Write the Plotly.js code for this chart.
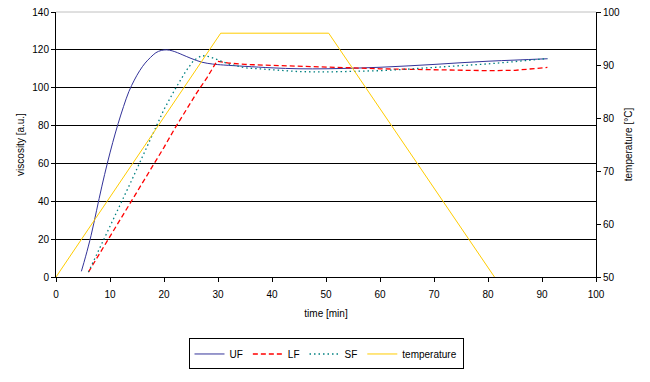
<!DOCTYPE html>
<html>
<head>
<meta charset="utf-8">
<script src="https://cdn.plot.ly/plotly-3.0.1.min.js"></script>
<style>html,body{margin:0;padding:0;background:#fff;}#chart{width:650px;height:382px;}</style>
</head>
<body>
<div id="chart"></div>
<script>
const ufTime = [4.7, 5.5, 6.5, 7.5, 8.5, 9.5, 10.5, 11.5, 12.5, 13.5, 14.5, 15.5, 16.5, 17.5, 18.5, 19.5, 20.5, 21.5, 22.5, 23.5, 25, 27, 29, 31, 35, 40, 45, 50, 55, 60, 65, 70, 75, 80, 85, 91];
const ufVisc = [3, 11, 22, 35, 48, 60, 71, 81, 90, 98, 104, 109, 113, 116, 118.5, 119.7, 120, 119.5, 118.5, 117.3, 115.5, 113.5, 112.5, 112, 111.3, 110.5, 110, 110, 110.3, 110.8, 111.5, 112.3, 113.2, 114, 114.6, 115.3];

const lfTime = [6, 8, 10, 12, 14, 16, 18, 20, 22, 24, 26, 28, 29.8, 32, 35, 40, 45, 50, 55, 60, 65, 70, 75, 80, 85, 88, 91];
const lfVisc = [2.6, 12, 21.3, 30.7, 40, 49.4, 58.8, 68.5, 78.5, 88, 97, 105.5, 114, 113, 112.3, 111.8, 111.5, 111, 110.5, 110, 109.7, 109.5, 109.3, 109, 109.2, 109.8, 110.7];

const sfTime = [6, 8, 10, 12, 14, 16, 18, 20, 22, 24, 25.5, 27, 28.5, 30, 32, 35, 40, 45, 50, 55, 60, 65, 70, 75, 80, 85, 91];
const sfVisc = [2.6, 14.5, 26.5, 38.8, 51, 63.5, 76, 88.5, 99, 108.5, 114.5, 117, 116.3, 114.5, 112.5, 110.5, 109.3, 108.5, 108.3, 108.5, 109, 109.8, 110.7, 111.6, 112.6, 113.8, 115.4];

const tempTime = [0, 30.5, 50.5, 81.2];
const tempVal = [50, 96, 96, 50];

const font = {family: 'Liberation Sans, Arial, sans-serif', size: 10, color: '#000'};

const traces = [
  {x: ufTime, y: ufVisc, name: 'UF', type: 'scatter', mode: 'lines', line: {color: '#333399', width: 1, shape: 'spline'}},
  {x: lfTime, y: lfVisc, name: 'LF', type: 'scatter', mode: 'lines', line: {color: '#FF0000', width: 1.3, dash: '5px,3px'}},
  {x: sfTime, y: sfVisc, name: 'SF', type: 'scatter', mode: 'lines', line: {color: '#008080', width: 1.3, dash: '1.5px,3px'}},
  {x: tempTime, y: tempVal, name: 'temperature', type: 'scatter', mode: 'lines', yaxis: 'y2', line: {color: '#FFCC00', width: 1}}
];

const layout = {
  width: 650, height: 382,
  margin: {l: 56, r: 54, t: 12, b: 101},
  paper_bgcolor: '#fff', plot_bgcolor: '#fff',
  font: font,
  showlegend: true,
  legend: {orientation: 'h', x: 0.5, xanchor: 'center', y: -0.232, yanchor: 'top',
           bordercolor: '#000', borderwidth: 1, font: font, tracegroupgap: 0},
  xaxis: {range: [0, 100], dtick: 10, showgrid: false, zeroline: false, showline: true, linecolor: '#000', linewidth: 1,
          ticks: 'outside', ticklen: 4, tickcolor: '#000', tickfont: font, ticklabelstandoff: 4,
          title: {text: 'time [min]', font: font, standoff: 10}},
  yaxis: {range: [0, 140], dtick: 20, showgrid: true, gridcolor: '#000', gridwidth: 1, zeroline: false,
          showline: true, linecolor: '#000', linewidth: 1, ticks: 'outside', ticklen: 4, tickcolor: '#000', tickfont: font,
          title: {text: 'viscosity [a.u.]', font: font, standoff: 5}},
  yaxis2: {range: [50, 100], dtick: 10, overlaying: 'y', side: 'right', showgrid: false, zeroline: false,
           showline: true, linecolor: '#000', linewidth: 1, ticks: 'outside', ticklen: 4, tickcolor: '#000', tickfont: font,
           title: {text: 'temperature [°C]', font: font, standoff: 5}},
  shapes: [
    {type: 'line', xref: 'paper', yref: 'paper', x0: 0, x1: 1, y0: 1, y1: 1, line: {color: '#C0C0C0', width: 1}, layer: 'above'}
  ]
};

Plotly.newPlot('chart', traces, layout, {displayModeBar: false, staticPlot: true});
</script>
</body>
</html>
